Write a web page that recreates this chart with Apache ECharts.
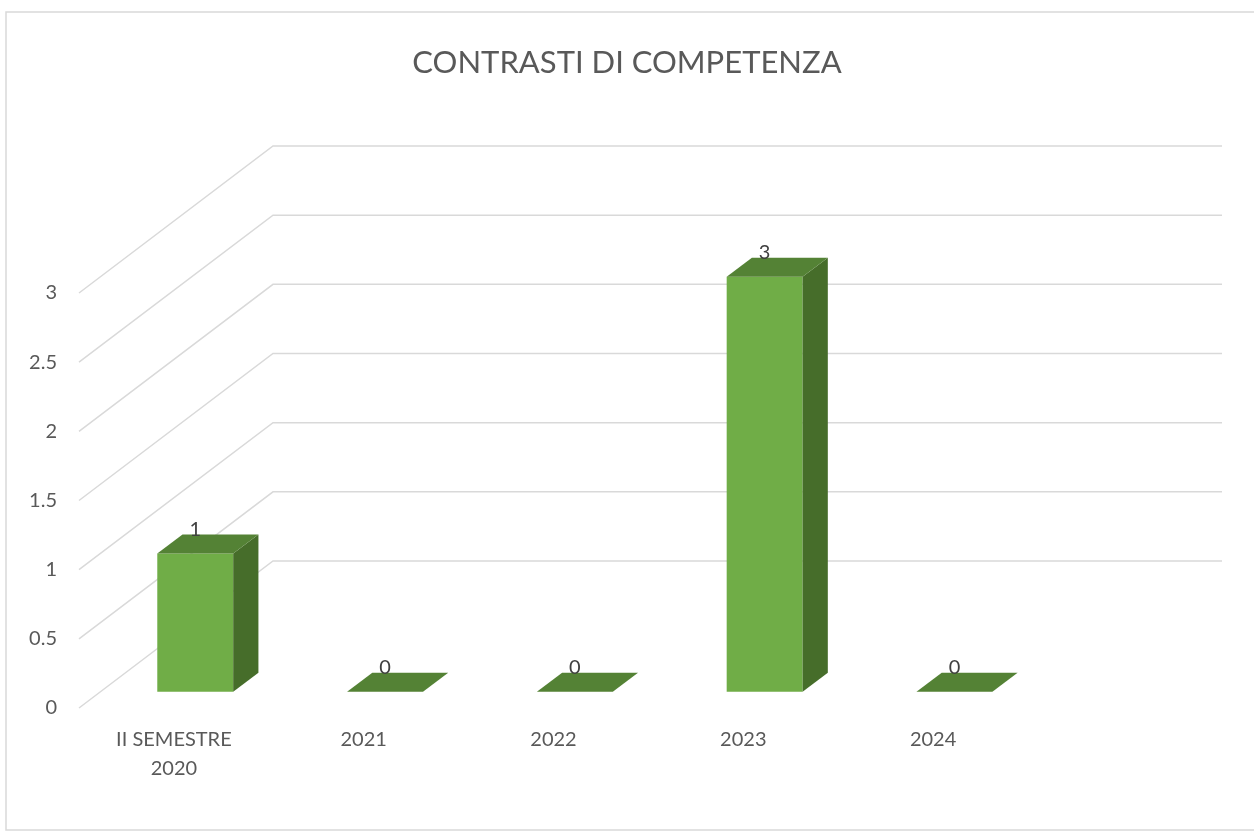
<!DOCTYPE html>
<html>
<head>
<meta charset="utf-8">
<script src="https://cdn.jsdelivr.net/npm/echarts@6/dist/echarts.min.js"></script>
<style>
  html, body { margin: 0; padding: 0; background: #fff; }
  #chart { width: 1254px; height: 831px; }
</style>
</head>
<body>
<div id="chart"></div>
<script>
var categories = ['II SEMESTRE\n2020', '2021', '2022', '2023', '2024'];
var values = [1, 0, 0, 3, 0];
var yTicks = [0, 0.5, 1, 1.5, 2, 2.5, 3];

// oblique depth of the 3d box (pixels)
var depthX = 194, depthY = 147;
var barFront = 0.11, barBack = 0.24, barWidth = 0.4;
var font = 'Lato';

var myChart = echarts.init(document.getElementById('chart'));

var barData = values.map(function (v, i) { return [i, v]; });
var tickData = yTicks.map(function (t) { return [0, t]; });

var option = {
    animation: false,
    title: {
        text: 'CONTRASTI DI COMPETENZA',
        left: 'center',
        top: 42,
        textStyle: { fontFamily: font, fontSize: 31, fontWeight: 'normal', color: '#595959' }
    },
    graphic: [{
        type: 'rect',
        shape: { x: 6, y: 12, width: 1260, height: 818 },
        style: { fill: 'none', stroke: '#d9d9d9', lineWidth: 1.5 },
        silent: true
    }],
    grid: { left: 79, right: 226, top: 293, bottom: 123 },
    xAxis: {
        type: 'category',
        data: categories,
        axisLine: { show: false },
        axisTick: { show: false },
        axisLabel: { margin: 17, fontFamily: font, fontSize: 20, lineHeight: 29, color: '#595959', interval: 0 }
    },
    yAxis: {
        type: 'value',
        min: 0,
        max: 3,
        interval: 0.5,
        axisLine: { show: false },
        axisTick: { show: false },
        splitLine: { show: false },
        axisLabel: { margin: 22, fontFamily: font, fontSize: 20, color: '#595959' }
    },
    series: [
        {
            // wall gridlines
            type: 'custom',
            data: tickData,
            silent: true,
            z: 1,
            renderItem: function (params, api) {
                var cs = params.coordSys;
                var y = api.coord([0, api.value(1)])[1];
                return {
                    type: 'polyline',
                    shape: { points: [[cs.x, y], [cs.x + depthX, y - depthY], [cs.x + cs.width + depthX, y - depthY]] },
                    style: { fill: null, stroke: '#d9d9d9', lineWidth: 1.5 }
                };
            }
        },
        {
            type: 'custom',
            data: barData,
            z: 2,
            renderItem: function (params, api) {
                var idx = api.value(0);
                var val = api.value(1);
                var top = api.coord([idx, val]);
                var base = api.coord([idx, 0]);
                var w = api.size([1, 0])[0] * barWidth;
                var fx = depthX * barFront, fy = depthY * barFront;
                var bx = depthX * barBack, by = depthY * barBack;
                var x1 = top[0] - w / 2 + fx, x2 = top[0] + w / 2 + fx;
                var yt = top[1] - fy, yb = base[1] - fy;
                var dx = bx - fx, dy = by - fy;
                var children = [];
                if (yb - yt > 0.5) {
                    children.push({
                        type: 'rect',
                        shape: { x: x1, y: yt, width: w, height: yb - yt },
                        style: { fill: '#70ad47' }
                    });
                    children.push({
                        type: 'polygon',
                        shape: { points: [[x2, yt], [x2 + dx, yt - dy], [x2 + dx, yb - dy], [x2, yb]] },
                        style: { fill: '#466d2a' }
                    });
                }
                children.push({
                    type: 'polygon',
                    shape: { points: [[x1, yt], [x1 + dx, yt - dy], [x2 + dx, yt - dy], [x2, yt]] },
                    style: { fill: '#548235' }
                });
                children.push({
                    type: 'text',
                    style: {
                        text: String(val),
                        x: top[0] + fx,
                        y: yt - dy - 5,
                        align: 'center',
                        verticalAlign: 'middle',
                        fontFamily: font,
                        fontSize: 20,
                        fill: '#404040'
                    }
                });
                return { type: 'group', children: children };
            }
        }
    ]
};

myChart.setOption(option);
window.addEventListener('resize', function () {
    myChart.resize();
});
</script>
</body>
</html>
